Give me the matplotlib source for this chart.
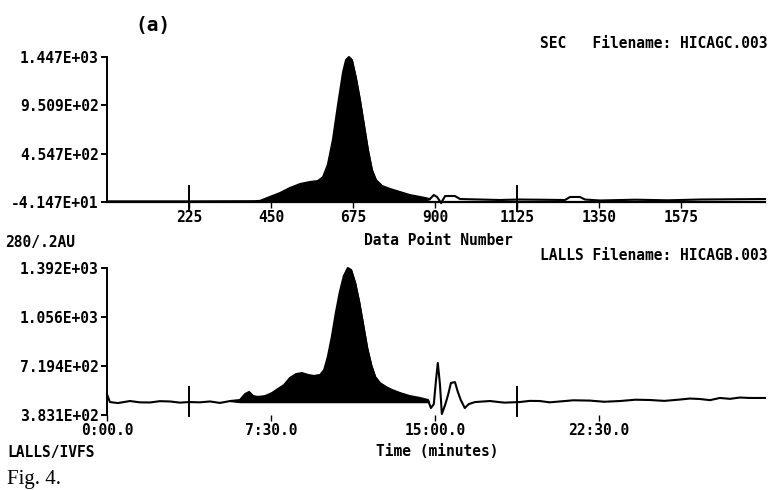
import matplotlib
matplotlib.use("Agg")
import matplotlib.pyplot as plt
import numpy as np

# SEC trace (top): data point number vs detector signal
sec_x = [0, 225, 406, 420, 447, 475, 502, 530, 557, 579, 593, 606, 620, 634,
         648, 656, 664, 672, 683, 694, 705, 716, 727, 738, 755, 777, 804, 831,
         859, 886, 897, 906, 917, 928, 955, 969, 1078, 1133, 1257, 1271, 1298,
         1312, 1353, 1450, 1540, 1627, 1806]
sec_y = [-35, -35, -33, -30, 10, 51, 102, 143, 164, 174, 215, 338, 595, 955,
         1293, 1416, 1447, 1416, 1231, 1006, 749, 492, 287, 184, 123, 92, 61, 30,
         10, -11, 30, 10, -52, 20, 20, -11, -21, -16, -21, 10, 10,
         -16, -26, -18, -24, -16, -11]

# LALLS trace (bottom): seconds vs signal
lalls_x = [0, 8, 30, 63, 90, 118, 145, 173, 200, 225, 255, 283, 310, 338, 365,
           379, 390, 401, 414, 434, 453, 469, 486, 502, 519, 535, 552, 568, 585,
           596, 606, 617, 628, 639, 650, 661, 670, 681, 692, 703, 714, 725, 736,
           749, 766, 782, 804, 831, 859, 881, 889, 897, 903, 908, 914, 919, 928,
           936, 944, 955, 963, 971, 982, 993, 1010, 1051, 1090, 1133, 1160, 1188,
           1215, 1243, 1280, 1325, 1365, 1408, 1450, 1490, 1530, 1572, 1600, 1627,
           1655, 1682, 1710, 1737, 1764, 1806]
lalls_y = [525, 472, 465, 479, 470, 469, 478, 476, 468, 472, 470, 476, 466, 479, 486,
           527, 541, 513, 507, 513, 534, 561, 589, 637, 664, 671, 658, 651, 658,
           692, 781, 918, 1083, 1227, 1337, 1392, 1378, 1289, 1159, 1001, 843, 726, 644,
           603, 575, 555, 534, 513, 500, 486, 431, 458, 623, 740, 589, 390, 452,
           520, 603, 609, 541, 486, 431, 458, 472, 479, 468, 472, 480, 479,
           470, 476, 484, 482, 474, 479, 488, 486, 480, 489, 496, 493,
           485, 500, 494, 503, 500, 500]
lalls_base = 472

top_ticks = [225, 450, 675, 900, 1125, 1350, 1575]
top_labels = ["225", "450", "675", "900", "1125", "1350", "1575"]
top_yticks = [-41.47, 454.7, 950.9, 1447]
top_ylabels = ["-4.147E+01", "4.547E+02", "9.509E+02", "1.447E+03"]

bot_ticks = [0, 450, 900, 1350]
bot_labels = ["0:00.0", "7:30.0", "15:00.0", "22:30.0"]
bot_yticks = [383.1, 719.4, 1056, 1392]
bot_ylabels = ["3.831E+02", "7.194E+02", "1.056E+03", "1.392E+03"]

big_ticks = [225, 1125]

mono = "DejaVu Sans Mono"
fs = 10.5

fig = plt.figure(figsize=(7.69, 4.90), dpi=100)
W, H = 769, 490


def make_ax(top_px, bot_px):
    return fig.add_axes([107 / W, 1 - bot_px / H, 658 / W, (bot_px - top_px) / H])


ax1 = make_ax(57, 202)
ax2 = make_ax(268, 415)

for ax in (ax1, ax2):
    for s in ("top", "right"):
        ax.spines[s].set_visible(False)
    ax.spines["left"].set_linewidth(1.4)
    ax.set_xlim(0, 1806)
    ax.tick_params(axis="y", direction="out", length=4, width=1.4, pad=2)
    ax.tick_params(axis="x", direction="out", length=4, width=1.0, pad=2)

# top panel
ax1.plot(sec_x, sec_y, color="black", lw=1.5, clip_on=False)
ax1.fill_between(sec_x, sec_y, -41.47, where=[(x >= 400 and x <= 880) for x in sec_x],
                 color="black", interpolate=True)
ax1.set_ylim(-41.47, 1447)
ax1.spines["bottom"].set_linewidth(1.6)
ax1.set_yticks(top_yticks)
ax1.set_yticklabels(top_ylabels, family=mono, fontsize=fs, fontweight="bold")
ax1.set_xticks(top_ticks)
ax1.set_xticklabels(top_labels, family=mono, fontsize=fs, fontweight="bold")

# bottom panel
ax2.plot(lalls_x, lalls_y, color="black", lw=1.5, clip_on=False)
ax2.fill_between(lalls_x, lalls_y, lalls_base,
                 where=[(x >= 360 and x <= 885) for x in lalls_x],
                 color="black", interpolate=True)
ax2.set_ylim(383.1, 1392)
ax2.spines["bottom"].set_visible(False)
ax2.set_yticks(bot_yticks)
ax2.set_yticklabels(bot_ylabels, family=mono, fontsize=fs, fontweight="bold")
ax2.set_xticks(bot_ticks)
ax2.set_xticklabels(bot_labels, family=mono, fontsize=fs, fontweight="bold")

# tall tick marks crossing the trace
for bt in big_ticks:
    ax1.plot([bt, bt], [-0.06, 0.11], color="black", lw=1.4,
             transform=ax1.get_xaxis_transform(), clip_on=False)
    ax2.plot([bt, bt], [-0.01, 0.19], color="black", lw=1.4,
             transform=ax2.get_xaxis_transform(), clip_on=False)

txt = dict(family=mono, fontsize=fs, fontweight="bold", color="black")
fig.text(153 / W, 1 - 25 / H, "(a)", ha="center", va="center",
         family=mono, fontsize=14, fontweight="bold")
fig.text(767 / W, 1 - 43 / H, "SEC   Filename: HICAGC.003", ha="right", va="center", **txt)
fig.text(767 / W, 1 - 255 / H, "LALLS Filename: HICAGB.003", ha="right", va="center", **txt)
fig.text(438 / W, 1 - 240 / H, "Data Point Number", ha="center", va="center", **txt)
fig.text(5 / W, 1 - 242 / H, "280/.2AU", ha="left", va="center", **txt)
fig.text(437 / W, 1 - 451 / H, "Time (minutes)", ha="center", va="center", **txt)
fig.text(7 / W, 1 - 452 / H, "LALLS/IVFS", ha="left", va="center", **txt)
fig.text(7 / W, 1 - 479 / H, "Fig. 4.", ha="left", va="center",
         family="Liberation Serif", fontsize=15)

fig.savefig("out.png", dpi=100)
